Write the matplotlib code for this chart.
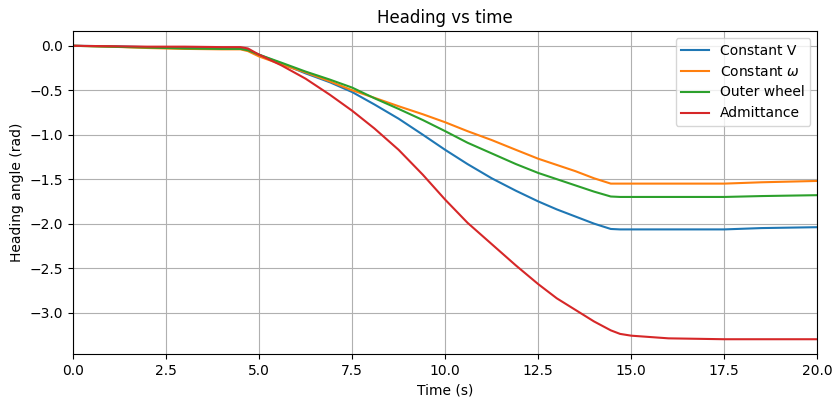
import matplotlib.pyplot as plt

# Values
time = [0.0, 1.0, 2.0, 3.0, 4.0, 4.5, 4.7, 5.0, 5.6, 6.25, 6.9, 7.5, 8.1, 8.75,
        9.4, 10.0, 10.6, 11.25, 11.9, 12.5, 13.0, 13.5, 14.0, 14.45, 14.7,
        15.0, 16.0, 17.5, 18.5, 20.0]

constant_v = [0.0, -0.005, -0.015, -0.02, -0.025, -0.03, -0.05, -0.10, -0.20, -0.31,
              -0.41, -0.52, -0.66, -0.82, -1.00, -1.17, -1.33, -1.49, -1.63, -1.75,
              -1.84, -1.92, -2.00, -2.06, -2.065, -2.065, -2.065, -2.065, -2.05, -2.04]

constant_w = [0.0, -0.01, -0.025, -0.035, -0.04, -0.04, -0.06, -0.12, -0.21, -0.30,
              -0.40, -0.50, -0.585, -0.68, -0.77, -0.86, -0.96, -1.06, -1.17, -1.27,
              -1.34, -1.41, -1.49, -1.55, -1.55, -1.55, -1.55, -1.55, -1.535, -1.52]

outer_wheel = [0.0, -0.01, -0.02, -0.03, -0.035, -0.035, -0.05, -0.10, -0.19, -0.29,
               -0.38, -0.47, -0.59, -0.71, -0.835, -0.96, -1.09, -1.21, -1.33, -1.43,
               -1.50, -1.57, -1.64, -1.695, -1.70, -1.70, -1.70, -1.70, -1.69, -1.68]

admittance = [0.0, -0.005, -0.01, -0.01, -0.015, -0.015, -0.03, -0.10, -0.22, -0.37,
              -0.55, -0.73, -0.93, -1.17, -1.45, -1.73, -1.99, -2.23, -2.47, -2.68,
              -2.84, -2.97, -3.10, -3.20, -3.24, -3.26, -3.29, -3.30, -3.30, -3.30]

fig = plt.figure(figsize=(8.34, 4.04), dpi=100)
plt.plot(time, constant_v, label="Constant V")
plt.plot(time, constant_w, label=r"Constant $\omega$")
plt.plot(time, outer_wheel, label="Outer wheel")
plt.plot(time, admittance, label="Admittance")
plt.xlim(0, 20)
plt.title("Heading vs time")
plt.xlabel("Time (s)")
plt.ylabel("Heading angle (rad)")
plt.grid(True)
plt.legend(loc="upper right")
fig.subplots_adjust(left=0.0875, right=0.98, top=0.923, bottom=0.124)
plt.savefig("out.png")
